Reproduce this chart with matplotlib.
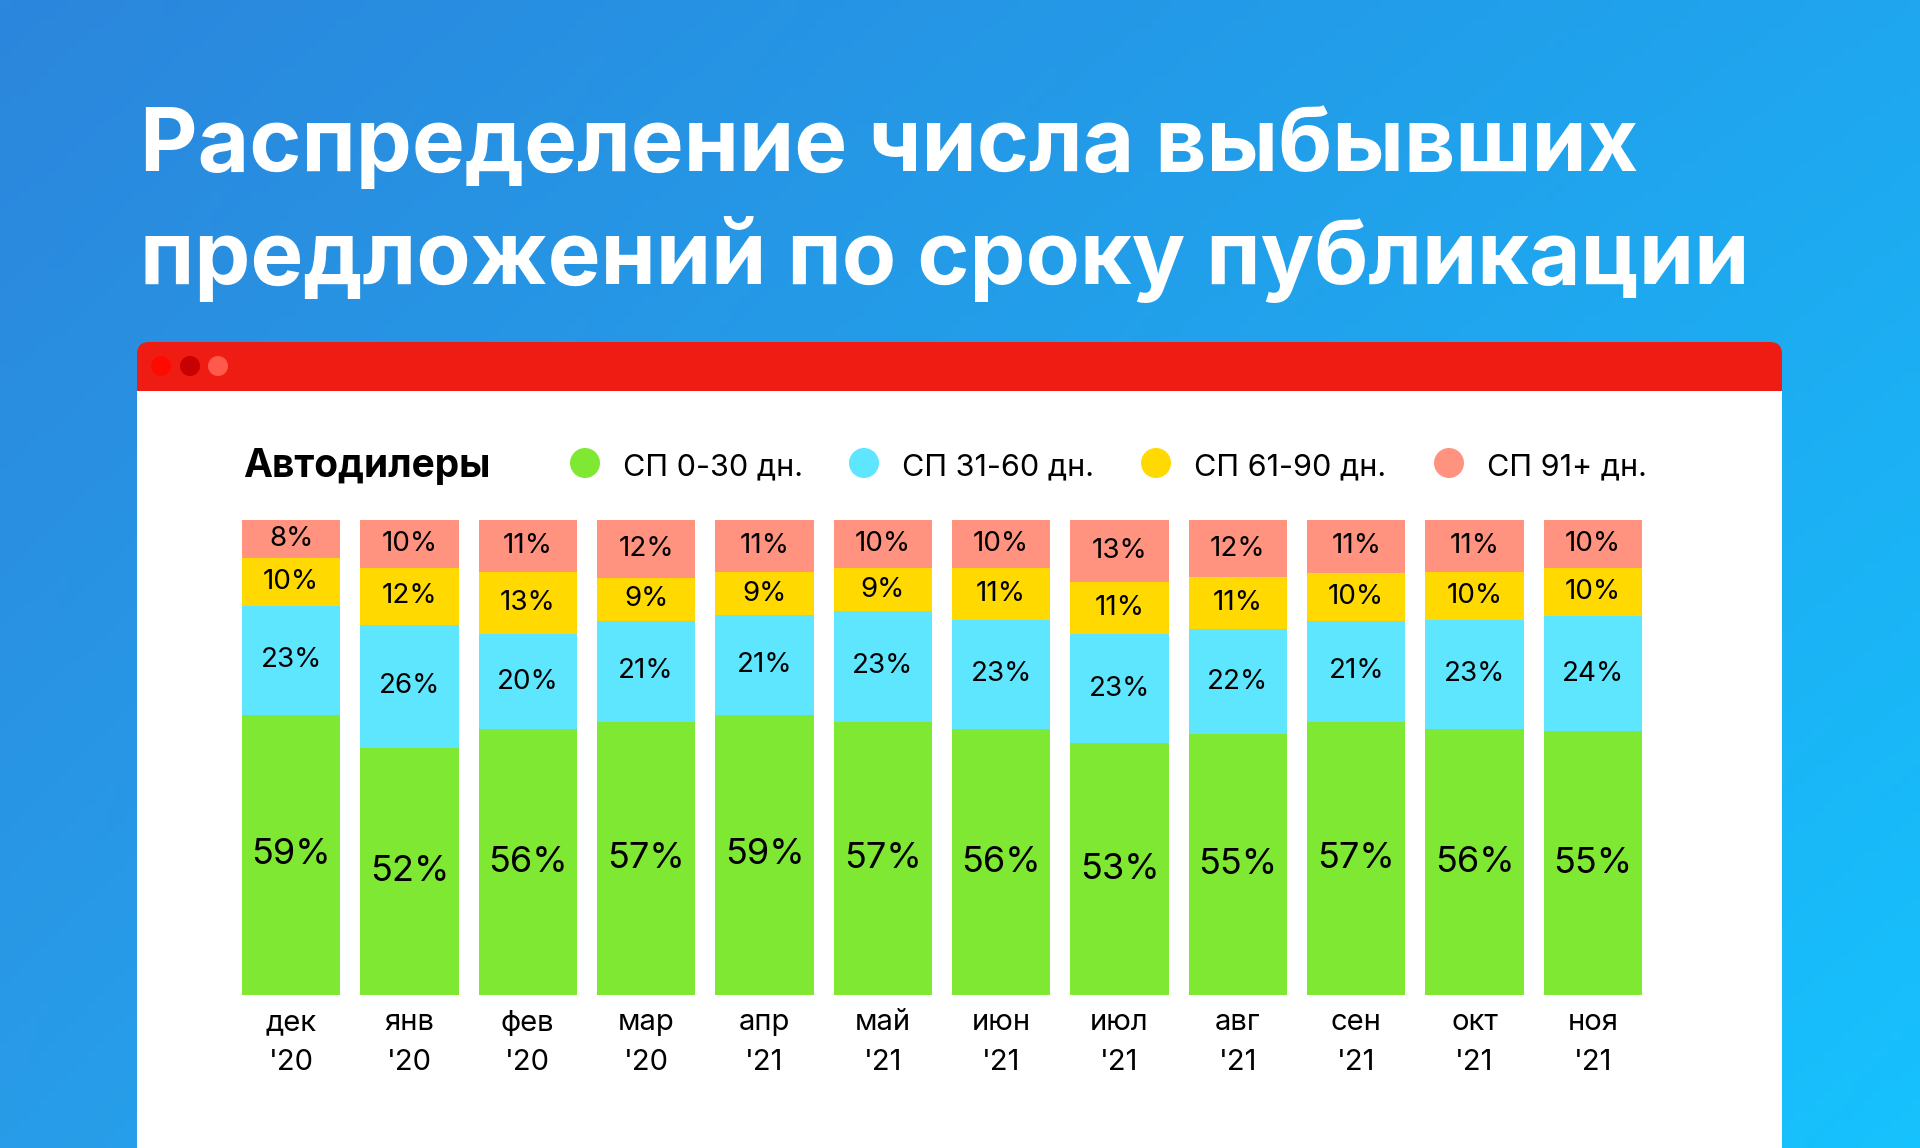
import matplotlib
matplotlib.use("Agg")
import matplotlib.pyplot as plt
from matplotlib.patches import FancyBboxPatch, Rectangle, Circle
import numpy as np

# data
months = ["дек", "янв", "фев", "мар", "апр", "май", "июн", "июл", "авг", "сен", "окт", "ноя"]
years = ["'20", "'20", "'20", "'20", "'21", "'21", "'21", "'21", "'21", "'21", "'21", "'21"]
sp_0_30 = [59, 52, 56, 57, 59, 57, 56, 53, 55, 57, 56, 55]
sp_31_60 = [23, 26, 20, 21, 21, 23, 23, 23, 22, 21, 23, 24]
sp_61_90 = [10, 12, 13, 9, 9, 9, 11, 11, 11, 10, 10, 10]
sp_91 = [8, 10, 11, 12, 11, 10, 10, 13, 12, 11, 11, 10]
series_names = ["СП 0-30 дн.", "СП 31-60 дн.", "СП 61-90 дн.", "СП 91+ дн."]
group_name = "Автодилеры"
title_lines = ["Распределение числа выбывших", "предложений по сроку публикации"]

colors = ["#7fe833", "#5fe6ff", "#ffd900", "#ff9380"]
W, H = 1920, 1148
FONT = "Inter"

fig = plt.figure(figsize=(W / 100, H / 100), dpi=100)

# background canvas in pixel coords
bg = fig.add_axes([0, 0, 1, 1])
bg.set_xlim(0, W)
bg.set_ylim(H, 0)
bg.axis("off")
tl = np.array([0x2b, 0x86, 0xdc]) / 255
tr = np.array([0x1f, 0xa6, 0xee]) / 255
bl = np.array([0x28, 0x9c, 0xe8]) / 255
br = np.array([0x16, 0xc2, 0xfd]) / 255
u = np.linspace(0, 1, 200)[None, :, None]
v = np.linspace(0, 1, 120)[:, None, None]
grad = (1 - u) * (1 - v) * tl + u * (1 - v) * tr + (1 - u) * v * bl + u * v * br
bg.imshow(grad, extent=[0, W, H, 0], aspect="auto", zorder=0)

# window panel
bg.add_patch(FancyBboxPatch((137, 342), 1645, 900, boxstyle="round,pad=0,rounding_size=12",
                            fc="#ee1c12", ec="none", zorder=1))
bg.add_patch(Rectangle((137, 391), 1645, H - 391, fc="white", ec="none", zorder=2))
for cx, c in zip([161, 190, 218], ["#ff0a00", "#c80000", "#ff5a4c"]):
    bg.add_patch(Circle((cx, 366), 10, fc=c, ec="none", zorder=3))

# title
for i, line in enumerate(title_lines):
    bg.text(140, 171 + i * 113, line, color="white", fontsize=64, fontweight="bold",
            family=FONT, ha="left", va="baseline", zorder=3)

# legend row
bg.text(243, 477, group_name, fontsize=28, fontweight="bold", family=FONT,
        ha="left", va="baseline", zorder=3)
leg_x = [585, 864, 1156, 1449]
for x, name, c in zip(leg_x, series_names, colors):
    bg.add_patch(Circle((x, 463), 15, fc=c, ec="none", zorder=3))
    bg.text(x + 38, 475, name, fontsize=22, family=FONT, ha="left", va="baseline", zorder=3)

# bars
ax = fig.add_axes([242 / W, 1 - 995 / H, 1400 / W, 475 / H])
ax.patch.set_alpha(0)
x = np.arange(len(months))
data = np.array([sp_0_30, sp_31_60, sp_61_90, sp_91], dtype=float)
heights = data / data.sum(axis=0) * 100
bottom = np.zeros(len(months))
for k in range(4):
    ax.bar(x, heights[k], 0.83, bottom=bottom, color=colors[k], linewidth=0)
    for i in range(len(months)):
        ax.text(x[i], bottom[i] + heights[k][i] / 2, f"{int(data[k][i])}%",
                ha="center", va="center", family=FONT,
                fontsize=26 if k == 0 else 20)
    bottom += heights[k]
ax.set_xlim(-0.415, len(months) - 1 + 0.415)
ax.set_ylim(0, 100)
ax.axis("off")

# month labels
for i in range(len(months)):
    ax.annotate(months[i], (x[i], 0), xytext=(0, -28), textcoords="offset pixels",
                ha="center", va="center", fontsize=21, family=FONT)
    ax.annotate(years[i], (x[i], 0), xytext=(0, -67), textcoords="offset pixels",
                ha="center", va="center", fontsize=21, family=FONT)

fig.savefig("out.png", dpi=100)
